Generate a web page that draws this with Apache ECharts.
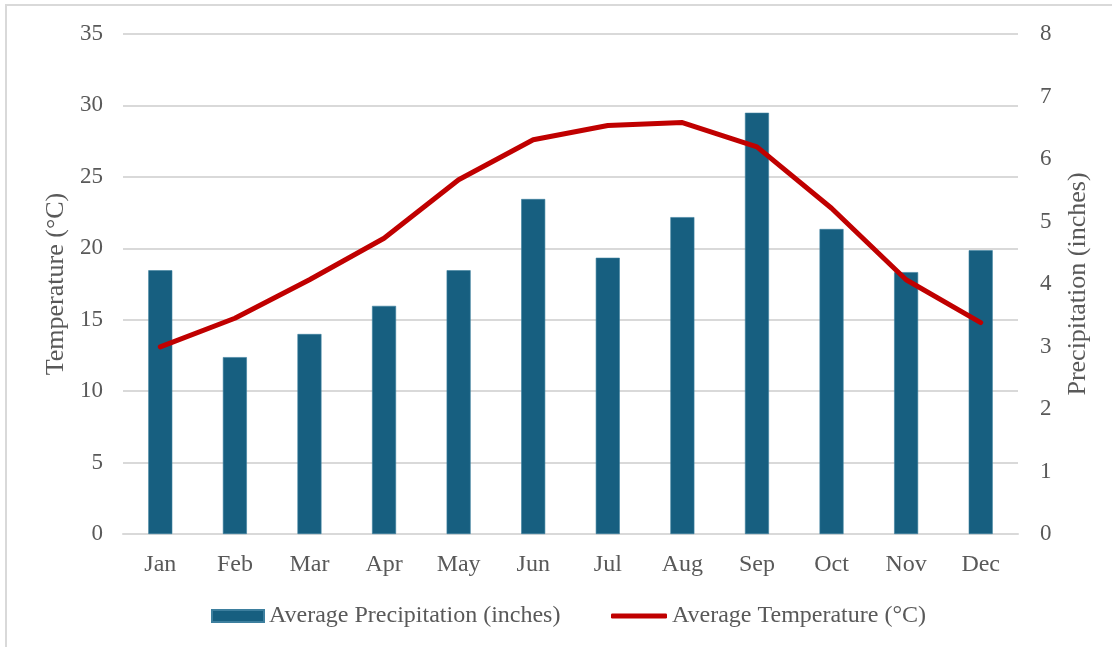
<!DOCTYPE html>
<html>
<head>
<meta charset="utf-8">
<script src="https://cdn.jsdelivr.net/npm/echarts@6/dist/echarts.min.js"></script>
<style>
  html, body { margin: 0; padding: 0; background: #ffffff; }
  #chart { width: 1112px; height: 647px; }
</style>
</head>
<body>
<div id="chart"></div>
<script>
// Monthly climate data
const months = ['Jan', 'Feb', 'Mar', 'Apr', 'May', 'Jun', 'Jul', 'Aug', 'Sep', 'Oct', 'Nov', 'Dec'];
const precipitation = [4.22, 2.83, 3.2, 3.65, 4.22, 5.36, 4.42, 5.07, 6.74, 4.88, 4.19, 4.54];
const temperature = [13.1, 15.1, 17.8, 20.7, 24.8, 27.6, 28.6, 28.8, 27.1, 22.8, 17.8, 14.8];
const tempTicks = { min: 0, max: 35, interval: 5 };
const precipTicks = { min: 0, max: 8, interval: 1 };

const FONT = '"Liberation Serif", "Times New Roman", serif';
const TEXT = '#595959';
const GRID_LINE = '#d9d9d9';
const BAR_COLOR = '#175f80';
const LINE_COLOR = '#c00000';

const PRECIP_NAME = 'Average Precipitation (inches)';
const TEMP_NAME = 'Average Temperature (°C)';

const chart = echarts.init(document.getElementById('chart'), null, { renderer: 'canvas' });

const legendText = { fontFamily: FONT, fontSize: 24, color: TEXT };

chart.setOption({
  backgroundColor: '#ffffff',
  animation: false,
  textStyle: { fontFamily: FONT, color: TEXT },
  graphic: [{
    type: 'rect',
    shape: { x: 6, y: 5, width: 1130, height: 670 },
    style: { fill: 'none', stroke: GRID_LINE, lineWidth: 2 },
    silent: true
  }],
  grid: { left: 123, right: 94, top: 34, bottom: 113, containLabel: false },
  legend: [
    {
      left: 211,
      top: 604,
      padding: 0,
      itemWidth: 52,
      itemHeight: 12,
      itemGap: 6,
      textStyle: legendText,
      data: [{ name: PRECIP_NAME, icon: 'rect' }]
    },
    {
      left: 611,
      top: 604,
      padding: 0,
      itemWidth: 56,
      itemHeight: 5,
      textStyle: legendText,
      data: [{ name: TEMP_NAME, icon: 'roundRect' }]
    }
  ],
  xAxis: {
    type: 'category',
    data: months,
    axisLine: { show: true, lineStyle: { color: GRID_LINE, width: 2 } },
    axisTick: { show: false },
    axisLabel: { fontFamily: FONT, fontSize: 24, color: TEXT, margin: 19 }
  },
  yAxis: [
    {
      type: 'value',
      min: tempTicks.min,
      max: tempTicks.max,
      interval: tempTicks.interval,
      name: 'Temperature (°C)',
      nameLocation: 'middle',
      nameGap: 54,
      nameRotate: 90,
      nameTextStyle: { fontFamily: FONT, fontSize: 26, color: TEXT },
      axisLine: { show: false },
      axisTick: { show: false },
      axisLabel: { fontFamily: FONT, fontSize: 23, color: TEXT, margin: 20 },
      splitLine: { show: true, lineStyle: { color: GRID_LINE, width: 2 } }
    },
    {
      type: 'value',
      position: 'right',
      min: precipTicks.min,
      max: precipTicks.max,
      interval: precipTicks.interval,
      name: 'Precipitation (inches)',
      nameLocation: 'middle',
      nameGap: 47,
      nameRotate: 90,
      nameTextStyle: { fontFamily: FONT, fontSize: 26, color: TEXT },
      axisLine: { show: false },
      axisTick: { show: false },
      axisLabel: { fontFamily: FONT, fontSize: 23, color: TEXT, margin: 22 },
      splitLine: { show: false }
    }
  ],
  series: [
    {
      name: PRECIP_NAME,
      type: 'bar',
      yAxisIndex: 1,
      data: precipitation,
      barWidth: 24,
      itemStyle: { color: BAR_COLOR, borderColor: '#3d7f9e', borderWidth: 0.6 }
    },
    {
      name: TEMP_NAME,
      type: 'line',
      yAxisIndex: 0,
      data: temperature,
      showSymbol: false,
      symbol: 'none',
      lineStyle: { color: LINE_COLOR, width: 5, cap: 'round', join: 'round' },
      itemStyle: { color: LINE_COLOR }
    }
  ]
});
</script>
</body>
</html>
